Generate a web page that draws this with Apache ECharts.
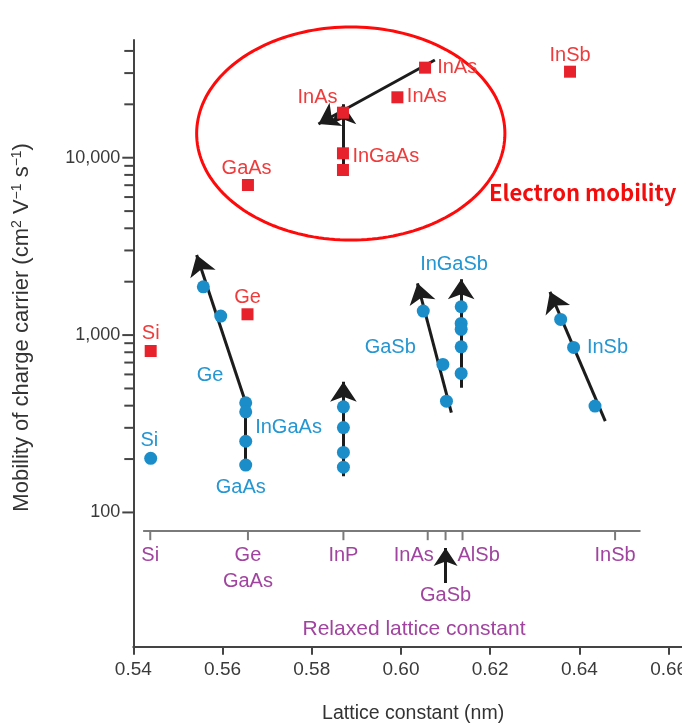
<!DOCTYPE html>
<html>
<head>
<meta charset="utf-8">
<script src="https://cdn.jsdelivr.net/npm/echarts@6/dist/echarts.min.js"></script>
<style>
  html, body { margin: 0; padding: 0; background: #fff; }
  #chart { width: 682px; height: 727px; }
</style>
</head>
<body>
<div id="chart"></div>
<script>
// Hole mobility (blue circles): [lattice constant (nm), mobility (cm2 V-1 s-1)]
const holePoints = [
  [0.5439, 202],
  [0.5557, 1870], [0.5596, 1280],
  [0.5652, 415], [0.5652, 369], [0.5652, 252], [0.5652, 185],
  [0.5871, 394], [0.5871, 301], [0.5871, 218], [0.5871, 180],
  [0.6050, 1366], [0.6094, 683], [0.6102, 424],
  [0.6135, 1444], [0.6135, 1164], [0.6135, 1077], [0.6135, 859], [0.6135, 608],
  [0.6358, 1226], [0.6387, 852], [0.6435, 398]
];

// Electron mobility (red squares)
const electronPoints = [
  [0.5439, 813], [0.5656, 1310], [0.5657, 7015],
  [0.5870, 8525], [0.5870, 10590], [0.5870, 17940],
  [0.5992, 21910], [0.6054, 32190], [0.6379, 30550]
];

// Strain trends: [start, end], arrow head at the end
const holeTrends = [
  [[0.5652, 415], [0.5542, 2826]],
  [[0.5871, 160], [0.5871, 546]],
  [[0.6113, 365], [0.6037, 1957]],
  [[0.6135, 505], [0.6135, 2061]],
  [[0.6458, 327], [0.6334, 1754]]
];
const holeSegments = [
  [[0.5652, 173], [0.5652, 415]]
];
const electronTrends = [
  [[0.6076, 35560], [0.5815, 15490]],
  [[0.5870, 8170], [0.5870, 20000]]
];

// Point labels: [lattice constant, mobility, text]
const holeLabels = [
  [0.5436, 256, 'Si'], [0.5572, 595, 'Ge'], [0.5748, 303, 'InGaAs'],
  [0.5641, 139, 'GaAs'], [0.5976, 852, 'GaSb'], [0.6119, 2515, 'InGaSb'],
  [0.6463, 852, 'InSb']
];
const electronLabels = [
  [0.5439, 1020, 'Si'], [0.5656, 1632, 'Ge'], [0.5654, 8710, 'GaAs'],
  [0.5966, 10220, 'InGaAs'], [0.5813, 21800, 'InAs'], [0.6058, 22080, 'InAs'],
  [0.6126, 32190, 'InAs'], [0.6379, 37940, 'InSb']
];

// Highlighted electron-mobility region: [x min, mobility max, x max, mobility min]
const electronRegion = [0.5542, 54600, 0.6233, 3434];

// Relaxed lattice constants of the bulk materials
const relaxedNames = ['Si', 'Ge\nGaAs', 'InP', 'InAs', 'GaSb', 'AlSb', 'InSb'];
const relaxedLattice = [0.5438, 0.5657, 0.5871, 0.6060, 0.6100, 0.6138, 0.6480];
const relaxedLevel = 78.4;
const relaxedSpan = [0.5422, 0.6537];
const relaxedArrow = [[0.6100, 40], [0.6100, 63]];

// Axis ticks
const xTicks = { min: 0.54, max: 0.663, step: 0.02 };
const yRange = { min: 17.5, max: 46100 };
const yMajorTicks = [100, 1000, 10000];
const yMinorTicks = [200, 300, 400, 500, 600, 700, 800, 900,
  2000, 3000, 4000, 5000, 6000, 7000, 8000, 9000, 20000, 30000, 40000];

const FONT = '"Liberation Sans", Arial, sans-serif';
const RED = '#E8222C';
const RED_TEXT = '#EF3B3B';
const BLUE = '#1B8DC9';
const BLUE_TEXT = '#2496D2';
const PURPLE = '#A0449F';
const INK = '#1c1c1c';
const AXIS = '#444';

function textRenderer(list, color) {
  return function (params, api) {
    const item = list[params.dataIndex];
    const p = api.coord([item[0], item[1]]);
    return {
      type: 'text', x: p[0], y: p[1],
      style: { text: item[2], fill: color, font: '20px ' + FONT, align: 'center', verticalAlign: 'middle' }
    };
  };
}

const chart = echarts.init(document.getElementById('chart'), null, { renderer: 'canvas' });

const option = {
  animation: false,
  backgroundColor: '#fff',
  textStyle: { fontFamily: FONT },
  grid: { left: 133.3, right: 0, top: 40, bottom: 80.3, containLabel: false, outerBoundsMode: 'none' },
  xAxis: {
    type: 'value', min: xTicks.min, max: xTicks.max, interval: xTicks.step,
    name: 'Lattice constant (nm)', nameLocation: 'middle', nameGap: 57,
    nameTextStyle: { fontSize: 19.5, color: '#333', fontFamily: FONT, padding: [0, 0, 0, 11] },
    axisLine: { show: true, onZero: false, lineStyle: { color: AXIS, width: 2 } },
    axisTick: { show: true, length: 8, lineStyle: { color: AXIS, width: 2 } },
    axisLabel: { margin: 14, fontSize: 19, color: '#3a3a3a', fontFamily: FONT,
      showMaxLabel: false, formatter: v => v.toFixed(2) },
    splitLine: { show: false }
  },
  yAxis: {
    type: 'log', logBase: 10, min: yRange.min, max: yRange.max,
    name: '{a|Mobility of charge carrier (cm}{b|2}{a| V}{b|−1}{a| s}{b|−1}{a|)}',
    nameLocation: 'middle', nameGap: 99, nameRotate: 90,
    nameTextStyle: {
      padding: [0, 0, 0, 32],
      rich: {
        a: { fontSize: 22, color: '#333', fontFamily: FONT, lineHeight: 24 },
        b: { fontSize: 14, color: '#333', fontFamily: FONT, verticalAlign: 'top', lineHeight: 24 }
      }
    },
    axisLine: { show: true, onZero: false, lineStyle: { color: AXIS, width: 2 } },
    axisTick: { show: false },
    axisLabel: { margin: 13, fontSize: 18, color: '#3a3a3a', fontFamily: FONT,
      showMinLabel: false, showMaxLabel: false,
      formatter: v => Math.round(v).toLocaleString('en-US') },
    splitLine: { show: false }
  },
  graphic: [
    { type: 'text', x: 414, y: 629, style: { text: 'Relaxed lattice constant', fill: PURPLE,
      font: '21px ' + FONT, align: 'center', verticalAlign: 'middle' } },
    { type: 'text', x: 489, y: 193, style: { text: 'Electron mobility', fill: '#F20C0C',
      font: 'bold 22px "Noto Sans CJK KR", sans-serif', align: 'left', verticalAlign: 'middle' } }
  ],
  series: [
    // y-axis ticks at decades and 2..9 multiples
    {
      type: 'custom', clip: false, silent: true, z: 5,
      data: yMajorTicks.concat(yMinorTicks).map(v => [xTicks.min, v]),
      renderItem: function (params, api) {
        const v = api.value(1);
        const p = api.coord([xTicks.min, v]);
        const len = yMajorTicks.indexOf(v) >= 0 ? 11 : 9;
        return { type: 'line', shape: { x1: p[0] - len, y1: p[1], x2: p[0], y2: p[1] },
          style: { stroke: AXIS, lineWidth: 2 } };
      }
    },
    // relaxed lattice constant scale
    {
      type: 'lines', coordinateSystem: 'cartesian2d', silent: true, z: 1,
      symbol: ['none', 'none'],
      lineStyle: { color: '#7a7a7a', width: 2, opacity: 1 },
      data: [{ coords: [[relaxedSpan[0], relaxedLevel], [relaxedSpan[1], relaxedLevel]] }]
    },
    {
      type: 'custom', clip: false, silent: true, z: 1,
      data: relaxedLattice.map(x => [x, relaxedLevel]),
      renderItem: function (params, api) {
        const i = params.dataIndex;
        const p = api.coord([api.value(0), api.value(1)]);
        const name = relaxedNames[i];
        let align = 'center', dx = 0, dy = 11;
        if (name === 'InAs') { align = 'right'; dx = 6; }
        if (name === 'AlSb') { align = 'left'; dx = -5; }
        if (name === 'GaSb') { dy = 51; }
        return {
          type: 'group',
          children: [
            { type: 'line', shape: { x1: p[0], y1: p[1], x2: p[0], y2: p[1] + 9 },
              style: { stroke: '#7a7a7a', lineWidth: 2 } },
            { type: 'text', x: p[0] + dx, y: p[1] + dy,
              style: { text: name, fill: PURPLE, font: '20px ' + FONT, align: align,
                verticalAlign: 'top', lineHeight: 26 } }
          ]
        };
      }
    },
    {
      type: 'lines', coordinateSystem: 'cartesian2d', silent: true, z: 2,
      symbol: ['none', 'arrow'], symbolSize: [12, 18],
      lineStyle: { color: INK, width: 3, opacity: 1 },
      data: [{ coords: relaxedArrow }]
    },
    // highlighted electron mobility region
    {
      type: 'custom', clip: false, silent: true, z: 2,
      data: [electronRegion],
      renderItem: function (params, api) {
        const a = api.coord([api.value(0), api.value(1)]);
        const b = api.coord([api.value(2), api.value(3)]);
        const cx = (a[0] + b[0]) / 2, cy = (a[1] + b[1]) / 2;
        const rx = Math.abs(b[0] - a[0]) / 2, ry = Math.abs(b[1] - a[1]) / 2;
        const pts = [];
        for (let k = 0; k < 180; k++) {
          const t = k / 180 * Math.PI * 2;
          pts.push([cx + rx * Math.cos(t), cy + ry * Math.sin(t)]);
        }
        return { type: 'polygon', shape: { points: pts },
          style: { fill: 'none', stroke: '#FF0A0A', lineWidth: 3 } };
      }
    },
    // trend arrows
    {
      type: 'lines', coordinateSystem: 'cartesian2d', silent: true, z: 3,
      symbol: ['none', 'none'],
      lineStyle: { color: INK, width: 3, opacity: 1 },
      data: holeSegments.map(c => ({ coords: c }))
    },
    {
      type: 'lines', coordinateSystem: 'cartesian2d', silent: true, z: 3,
      symbol: ['none', 'arrow'], symbolSize: [13, 20],
      lineStyle: { color: INK, width: 3, opacity: 1 },
      data: holeTrends.concat(electronTrends).map(c => ({ coords: c }))
    },
    // markers
    {
      type: 'scatter', z: 4, silent: true,
      symbol: 'circle', symbolSize: 13,
      itemStyle: { color: BLUE, opacity: 1 },
      data: holePoints
    },
    {
      type: 'scatter', z: 4, silent: true,
      symbol: 'rect', symbolSize: 12,
      itemStyle: { color: RED, opacity: 1 },
      data: electronPoints
    },
    // labels
    {
      type: 'custom', clip: false, silent: true, z: 6,
      data: holeLabels.map(d => [d[0], d[1]]),
      renderItem: textRenderer(holeLabels, BLUE_TEXT)
    },
    {
      type: 'custom', clip: false, silent: true, z: 6,
      data: electronLabels.map(d => [d[0], d[1]]),
      renderItem: textRenderer(electronLabels, RED_TEXT)
    }
  ]
};

chart.setOption(option);
</script>
</body>
</html>
